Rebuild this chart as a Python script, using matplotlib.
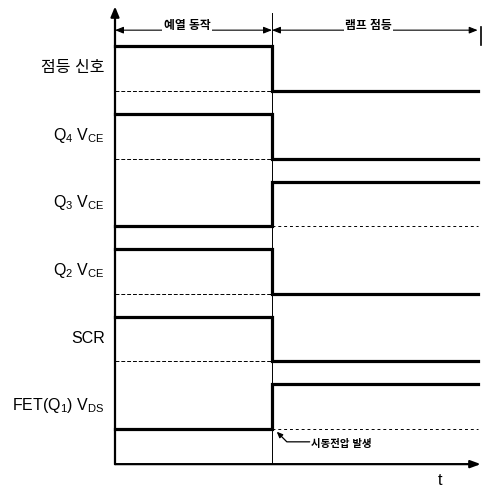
import matplotlib
matplotlib.use("Agg")
import matplotlib.pyplot as plt

plt.rcParams["font.family"] = ["Liberation Sans", "Noto Sans CJK KR", "DejaVu Sans"]
plt.rcParams["mathtext.fontset"] = "custom"
plt.rcParams["mathtext.rm"] = "Liberation Sans"

# signal names and logic levels before / after the switch point
signal_labels = [
    "점등 신호",
    r"Q$_4$ V$_{\mathrm{CE}}$",
    r"Q$_3$ V$_{\mathrm{CE}}$",
    r"Q$_2$ V$_{\mathrm{CE}}$",
    "SCR",
    r"FET(Q$_1$) V$_{\mathrm{DS}}$",
]
level_before = [1, 1, 0, 1, 1, 0]
level_after = [0, 0, 1, 0, 0, 1]
phase_labels = ["예열 동작", "램프 점등"]
phase_bounds = [0.0, 1.0, 2.31]
note_text = "시동전압 발생"

AMP = 0.66      # height of a high level in lane units
T_SW = phase_bounds[1]
T_END = phase_bounds[2]


def main() -> None:
    fig = plt.figure(figsize=(4.82, 4.89), dpi=100)
    ax = fig.add_axes([0, 0, 1, 1])
    ax.set_xlim(-0.7325, 2.3376)
    ax.set_ylim(-5.873, 1.361)
    ax.axis("off")

    x_axis_y = -5.52
    # axes with arrows
    ax.annotate("", xy=(0, 1.25), xytext=(0, x_axis_y),
                arrowprops=dict(arrowstyle="-|>,head_width=0.25,head_length=0.6",
                                lw=1.6, color="black", shrinkA=0, shrinkB=0))
    ax.annotate("", xy=(2.33, x_axis_y), xytext=(0, x_axis_y),
                arrowprops=dict(arrowstyle="-|>,head_width=0.22,head_length=0.6",
                                lw=1.6, color="black", shrinkA=0, shrinkB=0))
    ax.text(2.07, -5.74, "t", fontsize=11.5, ha="center", va="center")

    # switch divider
    ax.plot([T_SW, T_SW], [x_axis_y, 1.16], color="black", lw=0.7)

    # phase arrows
    top_y = 0.90
    for i, label in enumerate(phase_labels):
        x0, x1 = phase_bounds[i], phase_bounds[i + 1]
        ax.annotate("", xy=(x1, top_y), xytext=(x0, top_y),
                    arrowprops=dict(arrowstyle="<|-|>,head_width=0.2,head_length=0.5",
                                    lw=0.8, color="black", shrinkA=0, shrinkB=0))
        ax.text((x0 + x1) / 2 - 0.04, top_y + 0.07, label, fontsize=8.5,
                fontweight="bold", ha="center", va="center",
                bbox=dict(facecolor="white", edgecolor="none", pad=1.0))
    ax.plot([T_END + 0.02, T_END + 0.02], [0.68, 0.95], color="black", lw=1.2)

    # signals
    for i, (label, lb, la) in enumerate(zip(signal_labels, level_before, level_after)):
        base = -i
        y0 = base + lb * AMP
        y1 = base + la * AMP
        ax.plot([0, T_SW, T_SW, T_END], [y0, y0, y1, y1],
                color="black", lw=2.3, solid_joinstyle="miter")
        # dashed low reference where the signal sits high
        if lb:
            ax.plot([0, T_SW], [base, base], color="black", lw=0.7,
                    ls=(0, (4, 2)))
        if la:
            ax.plot([T_SW, T_END], [base, base], color="black", lw=0.7,
                    ls=(0, (3, 3)))
        ax.text(-0.065, base + AMP / 2 + 0.03, label, fontsize=11.5,
                ha="right", va="center")

    # starting voltage note
    ax.annotate("", xy=(T_SW + 0.03, -5.04), xytext=(T_SW + 0.24, -5.19),
                arrowprops=dict(arrowstyle="-|>,head_width=0.15,head_length=0.35",
                                lw=0.9, color="black", shrinkA=0, shrinkB=0,
                                connectionstyle="angle,angleA=180,angleB=135,rad=0"))
    ax.text(T_SW + 0.25, -5.2, note_text, fontsize=7.5, fontweight="bold",
            ha="left", va="center")

    fig.savefig("out.png", dpi=100)


if __name__ == "__main__":
    main()
